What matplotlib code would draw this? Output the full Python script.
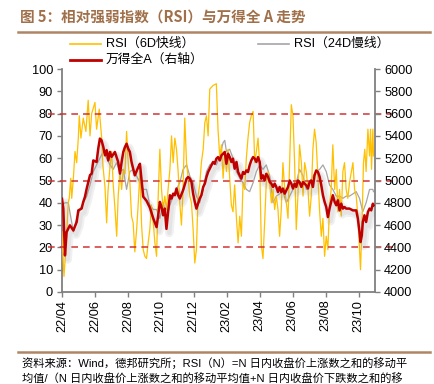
import matplotlib
matplotlib.use("Agg")
import matplotlib.pyplot as plt
import matplotlib.patheffects as pe
import matplotlib.transforms as mtransforms

plt.rcParams['font.family'] = ['Liberation Sans', 'Noto Sans CJK SC']

# ---------------- data (x = months since 2022-04) ----------------
tick_labels = ['22/04', '22/06', '22/08', '22/10', '22/12',
               '23/02', '23/04', '23/06', '23/08', '23/10']
tick_pos = [0, 2, 4, 6, 8, 10, 12, 14, 16, 18]

wind_t = [0.00, 0.08, 0.18, 0.28, 0.48, 0.69, 0.89, 0.99, 1.19, 1.29, 1.39, 1.50, 1.70, 1.80, 1.90,
          2.10, 2.20, 2.30, 2.40, 2.51, 2.61, 2.71, 2.81, 2.91, 3.01, 3.21, 3.31, 3.41, 3.52, 3.62,
          3.72, 3.82, 3.92, 4.02, 4.12, 4.22, 4.32, 4.42, 4.63, 4.73, 4.83, 4.93, 5.13, 5.33, 5.54,
          5.74, 5.84, 5.94, 6.04, 6.14, 6.24, 6.34, 6.44, 6.55, 6.65, 6.75, 6.85, 6.95, 7.05, 7.15,
          7.35, 7.56, 7.66, 7.76, 7.86, 7.96, 8.06, 8.16, 8.26, 8.36, 8.46, 8.57, 8.67, 8.77, 8.87,
          8.97, 9.17, 9.27, 9.37, 9.47, 9.58, 9.68, 9.78, 9.88, 9.98, 10.08, 10.18, 10.28, 10.38, 10.48,
          10.59, 10.69, 10.79, 10.89, 10.99, 11.09, 11.19, 11.29, 11.39, 11.49, 11.60, 11.70, 11.80, 11.90, 12.00,
          12.10, 12.20, 12.30, 12.40, 12.51, 12.61, 12.71, 12.81, 12.91, 13.01, 13.11, 13.21, 13.31, 13.41, 13.52,
          13.62, 13.72, 13.82, 13.92, 14.02, 14.12, 14.22, 14.32, 14.42, 14.53, 14.63, 14.73, 14.83, 14.93, 15.03,
          15.13, 15.23, 15.33, 15.43, 15.54, 15.64, 15.74, 15.84, 15.94, 16.04, 16.14, 16.24, 16.34, 16.44, 16.55,
          16.65, 16.75, 16.85, 16.95, 17.05, 17.15, 17.25, 17.45, 17.66, 17.86, 17.96, 18.06, 18.12, 18.20, 18.26,
          18.36, 18.46, 18.57, 18.67, 18.77, 18.87, 18.91]
wind_a = [4836, 4748, 4328, 4538, 4598, 4552, 4628, 4732, 4748, 4808, 4852, 4928, 5048, 5062, 5180,
          5166, 5286, 5376, 5360, 5300, 5226, 5272, 5180, 5256, 5212, 5256, 5212, 5166, 5062, 5166,
          5256, 5300, 5330, 5286, 5256, 5166, 5106, 5046, 5120, 5150, 5000, 4855, 4818, 4758, 4660,
          4582, 4688, 4808, 4762, 4688, 4748, 4566, 4718, 4868, 4838, 4882, 4868, 4928, 4868, 4838,
          4912, 5016, 5032, 5016, 4986, 4882, 4808, 4748, 4792, 4838, 4868, 4942, 4972, 5032, 5076,
          5106, 5166, 5150, 5196, 5210, 5180, 5226, 5240, 5256, 5150, 5240, 5210, 5166, 5196, 5106,
          5166, 5076, 5046, 5016, 5076, 5060, 5090, 5076, 5136, 5180, 5210, 5196, 5166, 5210, 5166,
          5016, 5046, 5000, 5060, 5032, 4986, 4972, 4942, 4972, 4942, 4896, 4942, 4896, 4928, 4882,
          4912, 4942, 5000, 4972, 4928, 4972, 4942, 5000, 4986, 4942, 4986, 4972, 4956, 4928, 4986,
          5000, 4942, 5046, 5090, 5076, 5032, 4956, 4868, 4808, 4762, 4672, 4748, 4808, 4868, 4808,
          4778, 4822, 4732, 4792, 4748, 4762, 4748, 4748, 4732, 4732, 4658, 4538, 4448, 4508, 4628,
          4688, 4628, 4718, 4748, 4732, 4792, 4778]

rsi6_t = [0.00, 0.04, 0.12, 0.24, 0.38, 0.44, 0.53, 0.59, 0.69, 0.79, 0.89, 0.99, 1.05, 1.15, 1.29,
          1.45, 1.59, 1.70, 1.80, 2.00, 2.10, 2.26, 2.41, 2.48, 2.61, 2.71, 2.79, 2.91, 3.01, 3.11,
          3.21, 3.32, 3.41, 3.52, 3.62, 3.72, 3.82, 3.92, 4.02, 4.12, 4.22, 4.32, 4.42, 4.53, 4.63,
          4.73, 4.83, 4.93, 5.03, 5.13, 5.23, 5.33, 5.43, 5.54, 5.64, 5.74, 5.84, 5.94, 6.04, 6.14,
          6.24, 6.34, 6.44, 6.55, 6.65, 6.75, 6.85, 6.95, 7.05, 7.15, 7.25, 7.35, 7.45, 7.56, 7.66,
          7.76, 7.86, 7.96, 8.06, 8.16, 8.26, 8.36, 8.46, 8.57, 8.67, 8.77, 8.87, 8.97, 9.17, 9.37,
          9.47, 9.58, 9.68, 9.78, 9.88, 9.98, 10.08, 10.18, 10.28, 10.38, 10.48, 10.59, 10.69, 10.79, 10.89,
          10.99, 11.09, 11.19, 11.29, 11.39, 11.49, 11.60, 11.70, 11.80, 11.90, 12.00, 12.10, 12.20, 12.30, 12.40,
          12.51, 12.61, 12.71, 12.81, 12.91, 13.01, 13.11, 13.21, 13.31, 13.41, 13.52, 13.62, 13.72, 13.82, 13.92,
          14.02, 14.12, 14.22, 14.32, 14.42, 14.53, 14.63, 14.73, 14.83, 14.93, 15.03, 15.13, 15.23, 15.33, 15.43,
          15.54, 15.64, 15.74, 15.84, 15.94, 16.04, 16.14, 16.24, 16.34, 16.44, 16.55, 16.65, 16.75, 16.85, 16.95,
          17.05, 17.15, 17.25, 17.35, 17.45, 17.66, 17.76, 17.86, 17.96, 18.06, 18.12, 18.22, 18.30, 18.38, 18.46,
          18.57, 18.67, 18.73, 18.79, 18.87, 18.91]
rsi6 = [27, 19, 7, 20, 40, 42, 51, 42, 51, 63, 58, 69, 79, 69, 78,
        72, 86, 70, 80, 85, 73, 82, 69, 57, 47, 31, 45, 56, 63, 48,
        38, 25, 43, 54, 46, 55, 53, 72, 58, 49, 34, 31, 18, 28, 40,
        54, 30, 19, 16, 15, 22, 28, 39, 31, 22, 16, 43, 64, 46, 37,
        43, 37, 46, 55, 70, 58, 69, 64, 54, 40, 30, 46, 78, 58, 51,
        43, 40, 28, 13, 19, 43, 48, 58, 64, 76, 79, 70, 91, 92.6, 93.4,
        73, 60, 66, 51, 63, 54, 64, 51, 39, 36, 48, 33, 22, 34, 25,
        49, 46, 60, 69, 76, 79, 81, 58, 63, 69, 57, 21, 15, 31, 49,
        54, 48, 40, 46, 37, 43, 37, 25, 37, 58, 46, 40, 33, 58, 84,
        79, 58, 28, 43, 66, 58, 43, 58, 54, 46, 34, 43, 64, 73, 67,
        51, 36, 25, 33, 16, 25, 19, 39, 46, 66, 46, 55, 36, 46, 34,
        54, 58, 46, 42, 49, 58, 46, 43, 34, 19, 10, 33, 58, 64, 54,
        73, 61, 73, 55, 73, 61]

rsi24_t = [0.00, 0.18, 0.38, 0.69, 0.89, 1.09, 1.50, 1.70, 1.90, 2.10, 2.30, 2.51, 2.71, 2.91, 3.11,
           3.31, 3.52, 3.72, 3.92, 4.12, 4.32, 4.53, 4.73, 4.93, 5.13, 5.33, 5.54, 5.74, 5.94, 6.14,
           6.34, 6.55, 6.75, 6.95, 7.15, 7.35, 7.56, 7.76, 7.96, 8.16, 8.36, 8.57, 8.77, 8.97, 9.17,
           9.37, 9.58, 9.78, 9.88, 9.98, 10.18, 10.38, 10.59, 10.79, 10.99, 11.19, 11.39, 11.60, 11.80, 12.00,
           12.20, 12.40, 12.61, 12.81, 13.01, 13.21, 13.41, 13.62, 13.82, 14.02, 14.22, 14.42, 14.63, 14.83, 15.03,
           15.23, 15.43, 15.64, 15.84, 16.04, 16.24, 16.44, 16.65, 16.85, 17.05, 17.25, 17.45, 17.66, 17.86, 18.06,
           18.26, 18.46, 18.67, 18.87, 18.91]
rsi24 = [39, 40, 40, 27, 33, 37, 43, 48, 54, 57, 60, 63, 60, 57, 55,
         58, 54, 55, 46, 54, 55, 52, 49, 46, 46, 39, 37, 37, 33, 40,
         33, 39, 43, 46, 49, 55, 57, 52, 49, 43, 40, 46, 54, 57, 58,
         57, 61, 67, 68, 63, 64, 60, 54, 51, 49, 46, 45, 49, 54, 57,
         55, 57, 52, 40, 43, 44, 45, 40, 43, 46, 49, 55, 52, 46, 49,
         52, 54, 55, 57, 54, 48, 46, 43, 43, 42, 43, 43, 44, 45, 42,
         36, 40, 46, 46, 45]

ref_levels = [20, 50, 80]

# ---------------- figure ----------------
fig = plt.figure(figsize=(4.34, 3.84), dpi=100)
ax = fig.add_axes([62/434, 1-292/384, (375-62)/434, (292-69)/384])
ax2 = ax.twinx()

YEL = '#FFC000'
GRY = '#A6A6A6'
RED = '#C00000'
BROWN = '#A0704A'

ax.plot(rsi24_t, rsi24, color=GRY, lw=0.9, zorder=2)
ax.plot(rsi6_t, rsi6, color=YEL, lw=0.9, zorder=3)
ax2.plot(wind_t, wind_a, color=RED, lw=1.8, zorder=4,
         path_effects=[pe.SimpleLineShadow(offset=(2, -3), shadow_color='#909090', alpha=0.13, linewidth=6),
                       pe.SimpleLineShadow(offset=(2, -3), shadow_color='#909090', alpha=0.12, linewidth=3),
                       pe.Normal()])

ax.set_xlim(0, 19.0)
ax.set_ylim(0, 100)
ax2.set_ylim(4000, 6000)
ax.set_yticks(range(0, 101, 10))
ax2.set_yticks(range(4000, 6001, 200))
ax.set_xticks(tick_pos)
ax.set_xticklabels(tick_labels, rotation=90)

# reference dashed lines extending beyond axes
trans = mtransforms.blended_transform_factory(ax.transAxes, ax.transData)
for lv in ref_levels:
    ax.plot([-0.045, 1.06], [lv, lv], transform=trans, clip_on=False,
            color='#D03030', lw=1.2, dashes=(4, 3), zorder=10, alpha=0.9)

for a in (ax, ax2):
    a.spines['top'].set_visible(False)
    for s in ('left', 'right', 'bottom'):
        a.spines[s].set_color('#808080')
        a.spines[s].set_linewidth(1.3)
    a.tick_params(axis='both', colors='#808080', labelcolor='black', labelsize=9.2,
                  length=3.5, width=1.0, direction='out', pad=3)
ax.spines['right'].set_visible(False)
ax2.spines['left'].set_visible(False)
ax2.spines['bottom'].set_visible(False)
ax.set_zorder(ax2.get_zorder() - 1)
ax.patch.set_visible(False)
ax2.patch.set_visible(False)
ax.tick_params(axis='x', pad=2)

# title and separators
fig.text(20/434, 1-17/384, '图 5：相对强弱指数（RSI）与万得全 A 走势', color=BROWN,
         fontsize=10.5, fontweight='bold', family=['Noto Sans CJK SC'], va='center', ha='left')
fig.add_artist(plt.Line2D([18/434, 430/434], [1-32/384, 1-32/384], color=BROWN, lw=1.8, alpha=0.85))
fig.add_artist(plt.Line2D([18/434, 430/434], [1-352/384, 1-352/384], color=BROWN, lw=1.8, alpha=0.85))

# legend
def leg(x0, y, color, lw, label):
    yy = 1 - y/384
    fig.add_artist(plt.Line2D([x0/434, (x0+31)/434], [yy, yy], color=color, lw=lw))
    fig.text((x0+36)/434, yy, label, fontsize=9.2, va='center', ha='left',
             family=['Liberation Sans', 'Noto Sans CJK SC'])

leg(70, 44, YEL, 1.2, 'RSI（6D快线）')
leg(258, 44, GRY, 1.2, 'RSI（24D慢线）')
leg(70, 60, RED, 2.0, '万得全A（右轴）')

# footer
fig.text(22/434, 1-363/384, '资料来源：Wind，德邦研究所；RSI（N）=N 日内收盘价上涨数之和的移动平',
         fontsize=8.1, va='center', ha='left', family=['Liberation Sans', 'Noto Sans CJK SC'])
fig.text(22/434, 1-378/384, '均值/（N 日内收盘价上涨数之和的移动平均值+N 日内收盘价下跌数之和的移',
         fontsize=8.1, va='center', ha='left', family=['Liberation Sans', 'Noto Sans CJK SC'])

fig.savefig('out.png', dpi=100)
